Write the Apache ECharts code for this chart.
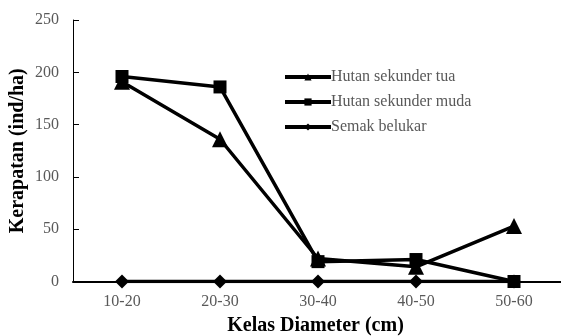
<!DOCTYPE html>
<html><head><meta charset="utf-8">
<script src="https://cdn.jsdelivr.net/npm/echarts@6/dist/echarts.min.js"></script>
<style>html,body{margin:0;padding:0;background:#fff}#c{width:561px;height:336px}</style>
</head><body><div id="c"></div>
<script>
var categories = ['10-20','20-30','30-40','40-50','50-60'];
var tua = [191, 136, 22, 14, 53];
var muda = [196, 186, 19, 21, 0];
var semak = [0, 0, 0, 0, 0];
var yTicks = [0, 50, 100, 150, 200, 250];

var chart = echarts.init(document.getElementById('c'));
var font = "'Liberation Serif','Times New Roman',serif";
function mk(name, data, symbol, size) {
  return {
    name: name, type: 'line', data: data, symbol: symbol, symbolSize: size,
    lineStyle: {color: '#000', width: 3.5}, itemStyle: {color: '#000'},
    animation: false
  };
}
chart.setOption({
  animation: false,
  grid: {left: 73, right: -2, top: 20, bottom: 54.5, outerBoundsMode: 'none', containLabel: false},
  legend: {
    orient: 'vertical', left: 283, top: 69, padding: 0, itemWidth: 46, itemHeight: 9, itemGap: 9,
    lineStyle: {width: 4},
    textStyle: {fontFamily: font, fontSize: 16, color: '#595959', padding: [0,0,0,-5]},
    data: ['Hutan sekunder tua', 'Hutan sekunder muda', 'Semak belukar']
  },
  xAxis: {
    type: 'category', data: categories,
    axisLine: {lineStyle: {color: '#000', width: 2}},
    axisTick: {show: false},
    axisLabel: {fontFamily: font, fontSize: 16, color: '#595959', margin: 12},
    name: 'Kelas Diameter (cm)', nameLocation: 'middle', nameGap: 34,
    nameTextStyle: {fontFamily: font, fontSize: 20, fontWeight: 'bold', color: '#000', padding: [0,0,0,-5]}
  },
  yAxis: {
    type: 'value', min: yTicks[0], max: yTicks[yTicks.length-1], interval: 50,
    axisLine: {show: true, lineStyle: {color: '#000', width: 1}},
    axisTick: {show: true, inside: true, length: 6, lineStyle: {color: '#000'}},
    splitLine: {show: false},
    axisLabel: {fontFamily: font, fontSize: 16, color: '#595959', margin: 14},
    name: 'Kerapatan (ind/ha)', nameLocation: 'middle', nameGap: 45, nameMoveOverlap: false,
    nameTextStyle: {fontFamily: font, fontSize: 20, fontWeight: 'bold', color: '#000'}
  },
  series: [
    mk('Hutan sekunder tua', tua, 'triangle', 16),
    mk('Hutan sekunder muda', muda, 'rect', 13),
    mk('Semak belukar', semak, 'diamond', 14)
  ]
});
</script></body></html>
